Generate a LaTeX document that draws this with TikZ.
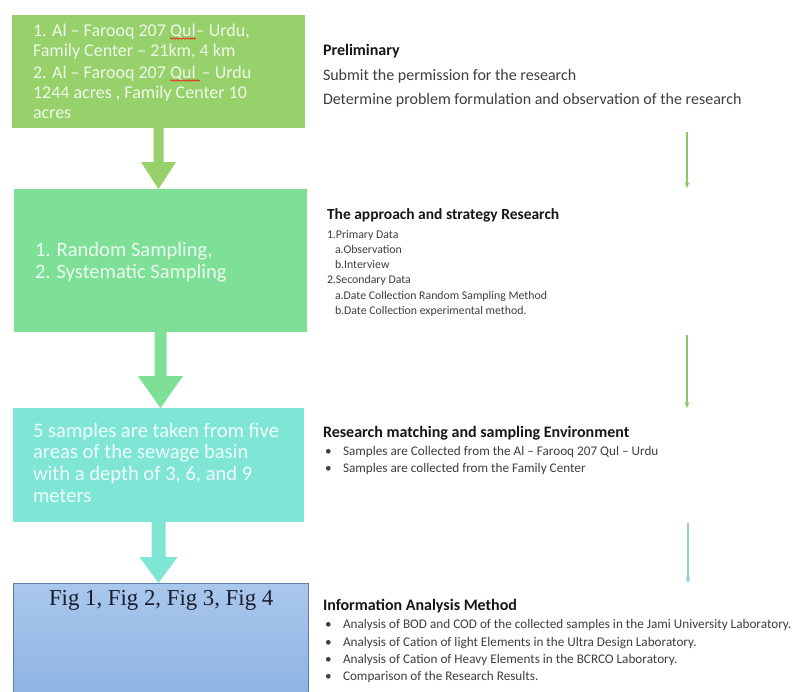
\documentclass[tikz,border=0pt]{standalone}
\usepackage{fontspec}
\setmainfont{Carlito}
\newfontfamily\timesfont{Liberation Serif}
\usetikzlibrary{arrows.meta,calc,decorations.pathmorphing}
\definecolor{cA}{RGB}{150,209,107}
\definecolor{cB}{RGB}{125,224,150}
\definecolor{cC}{RGB}{127,230,214}
\definecolor{cDtop}{RGB}{170,199,237}
\definecolor{cDbot}{RGB}{140,178,225}
\definecolor{cDline}{RGB}{95,125,165}
\definecolor{tA}{RGB}{240,248,232}
\definecolor{tB}{RGB}{236,252,240}
\definecolor{tC}{RGB}{238,253,250}
\definecolor{bodygray}{RGB}{62,62,62}
\definecolor{headblack}{RGB}{22,22,22}
\definecolor{thinGreen}{RGB}{138,200,104}
\definecolor{thinBlue}{RGB}{155,197,232}
\definecolor{navytext}{RGB}{25,28,45}
\newcommand\fs[1]{\fontsize{#1}{#1}\selectfont}
\tikzset{
  flowbox/.style={rectangle, anchor=north west, inner sep=0pt, outer sep=0pt},
  txt/.style={anchor=base west, inner sep=0pt, outer sep=0pt},
  boxA/.style={txt, text=tA, font=\fs{18}},
  boxB/.style={txt, text=tB, font=\fs{20.5}},
  boxC/.style={txt, text=tC, font=\fs{20.6}},
  head/.style={txt, text=headblack, font=\fs{16}\bfseries},
  body/.style={txt, text=bodygray, font=\fs{16}},
  small/.style={txt, text=bodygray, font=\fs{11.8}},
  bul/.style={txt, text=bodygray, font=\fs{13.2}},
  thinarrow/.style={line width=1.3pt, -{Stealth[length=6pt,width=5pt]}},
  spell/.style={red, line width=0.6pt, decorate, decoration={snake, amplitude=0.7pt, segment length=3pt}}
}
\begin{document}
\begin{tikzpicture}[x=1pt,y=-1pt]
\useasboundingbox (0,0) rectangle (797,691);
\clip (0,0) rectangle (797,691);
\fill[white] (0,0) rectangle (797,691);

% boxes
\node[flowbox, fill=cA, minimum width=293pt, minimum height=113pt] (b1) at (12,15) {};
\node[flowbox, fill=cB, minimum width=293pt, minimum height=143pt] (b2) at (14,189) {};
\node[flowbox, fill=cC, minimum width=291pt, minimum height=114pt] (b3) at (13,408) {};
\node[flowbox, top color=cDtop, bottom color=cDbot, draw=cDline, line width=1pt, minimum width=295pt, minimum height=120pt] (b4) at (13,583) {};

% block arrows
\path (b1.south) coordinate (a1s) (b1.south |- b2.north) coordinate (a1e);
\fill[cA] ($(a1s)+(-5,0)$) -- ($(a1e)+(-5,-27)$) -- ($(a1e)+(-17.5,-27)$) -- (a1e)
  -- ($(a1e)+(17.5,-27)$) -- ($(a1e)+(5,-27)$) -- ($(a1s)+(5,0)$) -- cycle;
\path (b2.south) coordinate (a2s) (b2.south |- b3.north) coordinate (a2e);
\fill[cB] ($(a2s)+(-6,0)$) -- ($(a2e)+(-6,-32)$) -- ($(a2e)+(-22.5,-32)$) -- (a2e)
  -- ($(a2e)+(22.5,-32)$) -- ($(a2e)+(6,-32)$) -- ($(a2s)+(6,0)$) -- cycle;
\path (b3.south) coordinate (a3s) (b3.south |- b4.north) coordinate (a3e);
\fill[cC] ($(a3s)+(-7,0)$) -- ($(a3e)+(-7,-26)$) -- ($(a3e)+(-19,-26)$) -- (a3e)
  -- ($(a3e)+(19,-26)$) -- ($(a3e)+(7,-26)$) -- ($(a3s)+(7,0)$) -- cycle;

% box texts
\node[boxA] (t1a) at (33,36) {1. Al – Farooq 207};
\node[boxA, xshift=4pt] (q1) at (t1a.base east) {Qul};
\node[boxA] (t1a2) at (q1.base east) {– Urdu,};
\node[boxA] (t1b) at (33,56) {Family Center – 21km, 4 km};
\node[boxA] (t1c) at (33,78) {2. Al – Farooq 207};
\node[boxA, xshift=4pt] (q2) at (t1c.base east) {Qul};
\node[boxA, xshift=6pt] (t1c2) at (q2.base east) {– Urdu};
\node[boxA] (t1d) at (33,98) {1244 acres , Family Center 10};
\node[boxA] (t1e) at (33,118) {acres};
\draw[spell] ($(q1.base west)+(0,2.5)$) -- ($(q1.base east)+(0,2.5)$);
\draw[spell] ($(q2.base west)+(0,2.5)$) -- ($(q2.base east)+(4,2.5)$);

\node[boxB] (t2a) at (35,256) {1. Random Sampling,};
\node[boxB] (t2b) at (35,278) {2. Systematic Sampling};

\node[boxC] (t3a) at (33,437) {5 samples are taken from five};
\node[boxC] (t3b) at (33,458) {areas of the sewage basin};
\node[boxC] (t3c) at (33,480) {with a depth of 3, 6, and 9};
\node[boxC] (t3d) at (33,502) {meters};

\node[txt, text=navytext, font=\timesfont\fs{22.8}] (t4a) at (49,605) {Fig 1, Fig 2, Fig 3, Fig 4};

% right column
\node[head] (h1) at (323,55) {Preliminary};
\node[body] (h1a) at (323,80) {Submit the permission for the research};
\node[body] (h1b) at (323,104) {Determine problem formulation and observation of the research};

\node[head, font=\fs{15.5}\bfseries] (h2) at (327,219) {The approach and strategy Research};
\node[small] (h2a) at (327,238) {1.Primary Data};
\node[small] (h2b) at (335,253) {a.Observation};
\node[small] (h2c) at (335,268) {b.Interview};
\node[small] (h2d) at (327,283) {2.Secondary Data};
\node[small] (h2e) at (335,299) {a.Date Collection Random Sampling Method};
\node[small] (h2f) at (335,314) {b.Date Collection experimental method.};

\node[head] (h3) at (323,437) {Research matching and sampling Environment};
\node[bul] (d3a) at (325,455) {•};
\node[bul] (h3a) at (343,455) {Samples are Collected from the Al – Farooq 207 Qul – Urdu};
\node[bul] (d3b) at (325,472) {•};
\node[bul] (h3b) at (343,472) {Samples are collected from the Family Center};

\node[head] (h4) at (323,610) {Information Analysis Method};
\node[bul] (d4a) at (325,628) {•};
\node[bul] (h4a) at (343,628) {Analysis of BOD and COD of the collected samples in the Jami University Laboratory.};
\node[bul] (d4b) at (325,646) {•};
\node[bul] (h4b) at (343,646) {Analysis of Cation of light Elements in the Ultra Design Laboratory.};
\node[bul] (d4c) at (325,663) {•};
\node[bul] (h4c) at (343,663) {Analysis of Cation of Heavy Elements in the BCRCO Laboratory.};
\node[bul] (d4d) at (325,680) {•};
\node[bul] (h4d) at (343,680) {Comparison of the Research Results.};

% thin arrows
\coordinate (s1) at (687,132); \coordinate (e1) at (687,188);
\coordinate (s2) at (687,335); \coordinate (e2) at (687,408);
\coordinate (s3) at (688,523); \coordinate (e3) at (688,583);
\draw[thinarrow, thinGreen] (s1) -- (e1);
\draw[thinarrow, thinGreen] (s2) -- (e2);
\draw[thinarrow, thinBlue] (s3) -- (e3);
\end{tikzpicture}
\end{document}
